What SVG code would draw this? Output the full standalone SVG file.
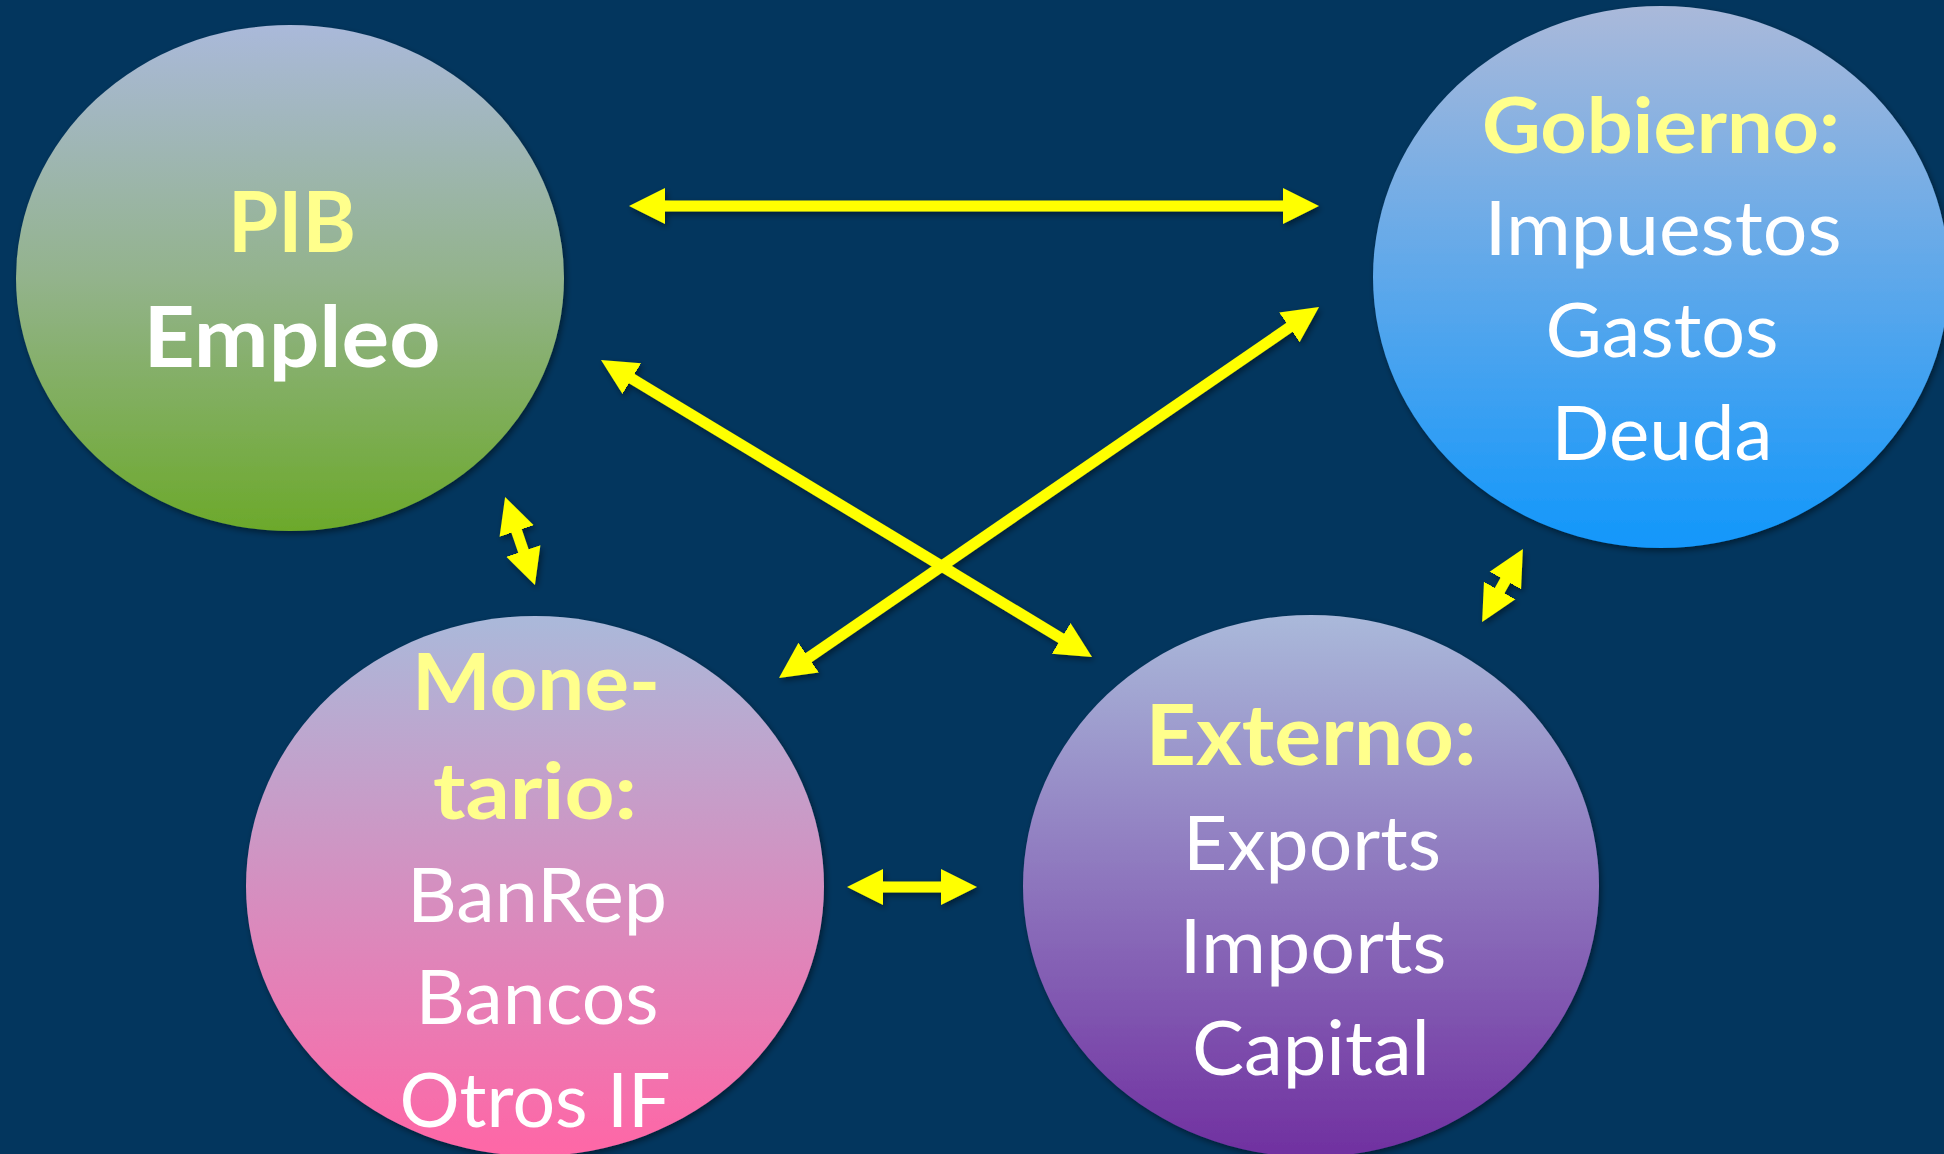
<svg xmlns="http://www.w3.org/2000/svg" width="1944" height="1154" viewBox="0 0 1944 1154">
<defs>
<style>
.t{font-family:Lato,"Open Sans","Liberation Sans",sans-serif;text-anchor:middle;}
.h{font-weight:bold;fill:#FFFF8C;}
.w{fill:#FFFFFF;}
.b{font-weight:bold;}
.r{font-weight:normal;}
.c{fill:none;stroke:#FFFF00;stroke-width:11;marker-start:url(#ah);marker-end:url(#ah);}
</style>
<linearGradient id="gPib" x1="0" y1="0" x2="0" y2="1">
<stop offset="0" stop-color="#AAB9DA"/><stop offset="0.5" stop-color="#93B38C"/><stop offset="1" stop-color="#6CA92B"/>
</linearGradient>
<linearGradient id="gGob" x1="0" y1="0" x2="0" y2="1">
<stop offset="0" stop-color="#AAB9DA"/><stop offset="1" stop-color="#1297FB"/>
</linearGradient>
<linearGradient id="gMon" x1="0" y1="0" x2="0" y2="1">
<stop offset="0" stop-color="#AAB9DA"/><stop offset="1" stop-color="#FF66A6"/>
</linearGradient>
<linearGradient id="gExt" x1="0" y1="0" x2="0" y2="1">
<stop offset="0" stop-color="#AAB9DA"/><stop offset="1" stop-color="#7030A0"/>
</linearGradient>
<filter id="sh" x="-10%" y="-10%" width="120%" height="120%">
<feDropShadow dx="2" dy="3" stdDeviation="3" flood-color="#000000" flood-opacity="0.45"/>
</filter>
<marker id="ah" markerUnits="userSpaceOnUse" markerWidth="40" markerHeight="40" viewBox="0 -20 40 40" refX="2" refY="0" orient="auto-start-reverse">
<path d="M0,-18 L36,0 L0,18 Z" fill="#FFFF00"/>
</marker>
</defs>
<rect x="0" y="0" width="1944" height="1154" fill="#03365E"/>

<g id="pib">
<ellipse cx="290" cy="278" rx="274" ry="253" fill="url(#gPib)" filter="url(#sh)"/>
<text class="t h" x="292" y="252" font-size="84" textLength="128" lengthAdjust="spacingAndGlyphs">PIB</text>
<text class="t w b" x="292" y="367" font-size="84" textLength="297" lengthAdjust="spacingAndGlyphs">Empleo</text>
</g>

<g id="gobierno">
<ellipse cx="1661" cy="277" rx="288" ry="271" fill="url(#gGob)" filter="url(#sh)"/>
<text class="t h" x="1661" y="153" font-size="76" textLength="358" lengthAdjust="spacingAndGlyphs">Gobierno:</text>
<text class="t w r" x="1663" y="255" font-size="76" textLength="357" lengthAdjust="spacingAndGlyphs">Impuestos</text>
<text class="t w r" x="1662" y="357" font-size="76" textLength="233" lengthAdjust="spacingAndGlyphs">Gastos</text>
<text class="t w r" x="1662" y="460" font-size="76" textLength="221" lengthAdjust="spacingAndGlyphs">Deuda</text>
</g>

<g id="monetario">
<ellipse cx="535" cy="886" rx="289" ry="270" fill="url(#gMon)" filter="url(#sh)"/>
<text class="t h" x="536" y="710" font-size="79" textLength="248" lengthAdjust="spacingAndGlyphs">Mone-</text>
<text class="t h" x="535" y="819" font-size="79" textLength="204" lengthAdjust="spacingAndGlyphs">tario:</text>
<text class="t w r" x="537" y="922" font-size="76" textLength="260" lengthAdjust="spacingAndGlyphs">BanRep</text>
<text class="t w r" x="537" y="1024" font-size="76" textLength="243" lengthAdjust="spacingAndGlyphs">Bancos</text>
<text class="t w r" x="535" y="1127" font-size="76" textLength="271" lengthAdjust="spacingAndGlyphs">Otros IF</text>
</g>

<g id="externo">
<ellipse cx="1311" cy="886" rx="288" ry="271" fill="url(#gExt)" filter="url(#sh)"/>
<text class="t h" x="1311" y="765" font-size="84" textLength="331" lengthAdjust="spacingAndGlyphs">Externo:</text>
<text class="t w r" x="1312" y="870" font-size="76" textLength="258" lengthAdjust="spacingAndGlyphs">Exports</text>
<text class="t w r" x="1313" y="973" font-size="76" textLength="267" lengthAdjust="spacingAndGlyphs">Imports</text>
<text class="t w r" x="1311" y="1075" font-size="76" textLength="238" lengthAdjust="spacingAndGlyphs">Capital</text>
</g>

<g id="connectors" filter="url(#sh)">
<line class="c" x1="663" y1="206" x2="1285" y2="206"/>
<line class="c" x1="881" y1="887" x2="943" y2="887"/>
<line class="c" x1="630.1" y1="377.6" x2="1062.9" y2="639.4"/>
<line class="c" x1="807" y1="658.7" x2="1291" y2="326.3"/>
<line class="c" x1="516" y1="529.2" x2="524" y2="552.8"/>
<line class="c" x1="1498.7" y1="592.3" x2="1506.3" y2="578.7"/>
</g>
</svg>
